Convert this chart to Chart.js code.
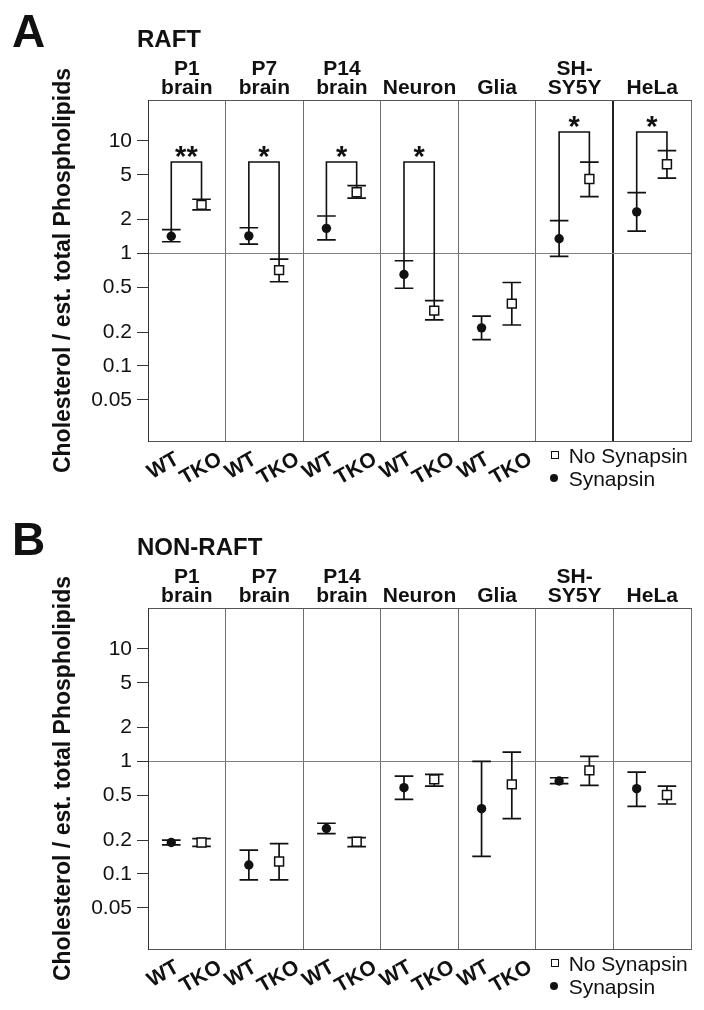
<!DOCTYPE html>
<html>
<head>
<meta charset="utf-8">
<script src="https://cdn.jsdelivr.net/npm/chart.js@4.4.1/dist/chart.umd.min.js"></script>
<style>
html,body{margin:0;padding:0;background:#fff;}
body{width:704px;height:1010px;position:relative;overflow:hidden;font-family:'Liberation Sans',Arial,Helvetica,sans-serif;color:#111;}
.panel{position:absolute;left:0;width:704px;height:500px;}
.panel canvas{position:absolute;left:0;top:0;}
.t{position:absolute;line-height:1;white-space:nowrap;color:#111;}
.letter{font-weight:bold;font-size:46px;left:12px;top:8px;}
.ttl{font-weight:bold;font-size:24px;left:137px;top:27.2px;}
.lg{font-size:21px;left:568.7px;}
.lg1{top:445.2px;}
.lg2{top:468.2px;}
.sq{position:absolute;box-sizing:border-box;width:8px;height:8px;border:1.3px solid #111;background:#fff;left:550.5px;top:450.5px;}
.dot{position:absolute;width:8px;height:8px;border-radius:50%;background:#111;left:550px;top:474.3px;}
</style>
</head>
<body>
<div class="panel" id="panelA" style="top:0px;">
  <canvas id="chartA" width="704" height="500"></canvas>
  <div class="t letter">A</div>
  <div class="t ttl">RAFT</div>
  <div class="sq"></div><div class="t lg lg1">No Synapsin</div>
  <div class="dot"></div><div class="t lg lg2">Synapsin</div>
</div>
<div class="panel" id="panelB" style="top:508px;">
  <canvas id="chartB" width="704" height="500"></canvas>
  <div class="t letter">B</div>
  <div class="t ttl">NON-RAFT</div>
  <div class="sq"></div><div class="t lg lg1">No Synapsin</div>
  <div class="dot"></div><div class="t lg lg2">Synapsin</div>
</div>
<script>
// ---------- data ----------
const groupLabels = [['P1','brain'],['P7','brain'],['P14','brain'],'Neuron','Glia',['SH-','SY5Y'],'HeLa'];
const genotypeLabels = ['WT','TKO'];
const yTickValues = [0.05,0.1,0.2,0.5,1,2,5,10];
const yAxisTitle = 'Cholesterol / est. total Phospholipids';

// A: RAFT  (Synapsin = WT, No Synapsin = TKO)
const raftSynapsin     = [1.42, 1.43, 1.67, 0.65, 0.218, 1.35, 2.34];
const raftSynapsinLo   = [1.27, 1.21, 1.32, 0.49, 0.171, 0.94, 1.58];
const raftSynapsinHi   = [1.63, 1.69, 2.15, 0.86, 0.277, 1.96, 3.47];
const raftNoSynapsin   = [2.70, 0.71, 3.50, 0.31, 0.358, 4.59, 6.21];
const raftNoSynapsinLo = [2.44, 0.56, 3.10, 0.256, 0.231, 3.20, 4.66];
const raftNoSynapsinHi = [3.03, 0.89, 4.00, 0.381, 0.551, 6.47, 8.20];
const raftStars        = ['**','*','*','*','','*','*'];
const raftBracketLevel = [6.5, 6.5, 6.5, 6.5, null, 12, 12];

// B: NON-RAFT
const nonRaftSynapsin     = [0.19, 0.12, 0.253, 0.584, 0.38, 0.669, 0.572];
const nonRaftSynapsinLo   = [0.181, 0.0885, 0.228, 0.46, 0.143, 0.634, 0.399];
const nonRaftSynapsinHi   = [0.20, 0.163, 0.282, 0.741, 1.0, 0.716, 0.804];
const nonRaftNoSynapsin   = [0.19, 0.129, 0.193, 0.692, 0.625, 0.832, 0.502];
const nonRaftNoSynapsinLo = [0.176, 0.0885, 0.175, 0.604, 0.31, 0.612, 0.418];
const nonRaftNoSynapsinHi = [0.206, 0.186, 0.21, 0.767, 1.21, 1.11, 0.604];
const nonRaftStars        = ['','','','','','',''];
const nonRaftBracketLevel = [null,null,null,null,null,null,null];

// ---------- styling constants ----------
const FONT = "'Liberation Sans', Arial, Helvetica, sans-serif";
const Y_MIN = 0.0215, Y_MAX = 23.1;
const WT_POS = 0.30, TKO_POS = 0.69;        // position of the two genotypes inside a group
const WT_LABEL_POS = 0.38, TKO_LABEL_POS = 0.93;
const LABELLED_GROUPS = 5;                  // genotype labels shown under the first five groups (legend under the rest)

Chart.defaults.font.family = FONT;
Chart.defaults.color = '#111';

const errorBarPlugin = {
  id: 'errorBars',
  beforeDatasetsDraw(chart) {
    const ctx = chart.ctx, y = chart.scales.y;
    chart.data.datasets.forEach((ds, di) => {
      if (!ds.errLo) return;
      const meta = chart.getDatasetMeta(di);
      ctx.save();
      ctx.strokeStyle = '#111';
      ctx.lineWidth = 1.7;
      meta.data.forEach((pt, i) => {
        const x = pt.x;
        const yl = y.getPixelForValue(ds.errLo[i]);
        const yh = y.getPixelForValue(ds.errHi[i]);
        ctx.beginPath();
        ctx.moveTo(x, yl); ctx.lineTo(x, yh);
        ctx.moveTo(x - 9.3, yl); ctx.lineTo(x + 9.3, yl);
        ctx.moveTo(x - 9.3, yh); ctx.lineTo(x + 9.3, yh);
        ctx.stroke();
      });
      ctx.restore();
    });
  }
};

const sigPlugin = {
  id: 'sigBrackets',
  afterDatasetsDraw(chart, args, opts) {
    if (!opts || !opts.stars) return;
    const ctx = chart.ctx, y = chart.scales.y;
    const wt = chart.data.datasets[0], tko = chart.data.datasets[1];
    const mWt = chart.getDatasetMeta(0), mTko = chart.getDatasetMeta(1);
    ctx.save();
    ctx.strokeStyle = '#111';
    ctx.fillStyle = '#111';
    ctx.lineWidth = 1.6;
    opts.stars.forEach((s, i) => {
      if (!s || opts.levels[i] == null) return;
      const x1 = mWt.data[i].x, x2 = mTko.data[i].x;
      const yb = y.getPixelForValue(opts.levels[i]);
      const y1 = y.getPixelForValue(wt.errHi[i]);
      const y2 = y.getPixelForValue(tko.errHi[i]);
      ctx.beginPath();
      ctx.moveTo(x1, y1); ctx.lineTo(x1, yb); ctx.lineTo(x2, yb); ctx.lineTo(x2, y2);
      ctx.stroke();
      ctx.font = 'bold 29px ' + FONT;
      ctx.textAlign = 'center';
      ctx.textBaseline = 'alphabetic';
      ctx.fillText(s, (x1 + x2) / 2, yb + 4.5);
    });
    ctx.restore();
  }
};

function points(vals, pos) { return vals.map((v, i) => ({x: i + pos, y: v})); }

function makeChart(canvasId, wt, wtLo, wtHi, tko, tkoLo, tkoHi, stars, levels, darkDivider) {
  const labelPositions = [];
  for (let i = 0; i < LABELLED_GROUPS; i++) labelPositions.push(i + WT_LABEL_POS, i + TKO_LABEL_POS);
  return new Chart(document.getElementById(canvasId), {
    type: 'scatter',
    data: {
      datasets: [
        {label: 'Synapsin', data: points(wt, WT_POS), errLo: wtLo, errHi: wtHi,
         pointStyle: 'circle', pointRadius: 4.7, pointHoverRadius: 4.7,
         backgroundColor: '#111', borderColor: '#111', borderWidth: 0},
        {label: 'No Synapsin', data: points(tko, TKO_POS), errLo: tkoLo, errHi: tkoHi,
         pointStyle: 'rect', pointRadius: 6.3, pointHoverRadius: 6.3,
         backgroundColor: '#fff', borderColor: '#111', borderWidth: 1.5}
      ]
    },
    options: {
      responsive: false,
      animation: false,
      devicePixelRatio: 1,
      layout: {padding: {left: 0, right: 13, top: 0, bottom: 0}},
      plugins: {
        legend: {display: false},
        tooltip: {enabled: false},
        sigBrackets: {stars: stars, levels: levels}
      },
      scales: {
        x: {
          type: 'linear', position: 'bottom', min: 0, max: groupLabels.length, bounds: 'data',
          ticks: {display: false, stepSize: 1},
          grid: {
            drawTicks: false,
            color: c => (darkDivider && c.tick && c.tick.value === 6) ? '#222' : '#6e6e6e',
            lineWidth: c => (darkDivider && c.tick && c.tick.value === 6) ? 2 : 1
          },
          border: {display: true, color: '#555', width: 1},
          afterFit(s) { s.height = 0; }
        },
        xl: {
          type: 'linear', position: 'bottom', min: 0, max: groupLabels.length, bounds: 'data',
          grid: {display: false, drawTicks: false},
          border: {display: false},
          afterBuildTicks(s) { s.ticks = labelPositions.map(v => ({value: v})); },
          ticks: {
            autoSkip: false, minRotation: 30, maxRotation: 30, padding: 6,
            color: '#111', font: {size: 21, weight: 'bold'},
            callback: (v, i) => genotypeLabels[i % 2]
          },
          afterFit(s) { s.height = 59; }
        },
        xt: {
          type: 'category', position: 'top', labels: groupLabels, offset: true,
          grid: {display: false, drawTicks: false},
          border: {display: true, color: '#555', width: 1},
          ticks: {autoSkip: false, maxRotation: 0, minRotation: 0, padding: 2,
                  color: '#111', font: {size: 21, weight: 'bold', lineHeight: 0.92}},
          afterFit(s) { s.height = 100; }
        },
        y: {
          type: 'logarithmic', position: 'left', min: Y_MIN, max: Y_MAX, bounds: 'data',
          afterBuildTicks(s) { s.ticks = yTickValues.map(v => ({value: v})); },
          ticks: {autoSkip: false, padding: 5, color: '#111', font: {size: 21},
                  callback: v => String(v)},
          grid: {
            drawTicks: true, tickLength: 11, tickColor: '#333', tickWidth: 1,
            color: c => (c.tick && c.tick.value === 1) ? '#808080' : 'rgba(0,0,0,0)'
          },
          border: {display: true, color: '#333', width: 1},
          title: {display: true, text: yAxisTitle, color: '#111',
                  font: {size: 23, weight: 'bold'}, padding: {top: 50, bottom: 0}},
          afterFit(s) { s.width = 148; }
        }
      }
    },
    plugins: [errorBarPlugin, sigPlugin]
  });
}

makeChart('chartA', raftSynapsin, raftSynapsinLo, raftSynapsinHi,
          raftNoSynapsin, raftNoSynapsinLo, raftNoSynapsinHi, raftStars, raftBracketLevel, true);
makeChart('chartB', nonRaftSynapsin, nonRaftSynapsinLo, nonRaftSynapsinHi,
          nonRaftNoSynapsin, nonRaftNoSynapsinLo, nonRaftNoSynapsinHi, nonRaftStars, nonRaftBracketLevel, false);
</script>
</body>
</html>
